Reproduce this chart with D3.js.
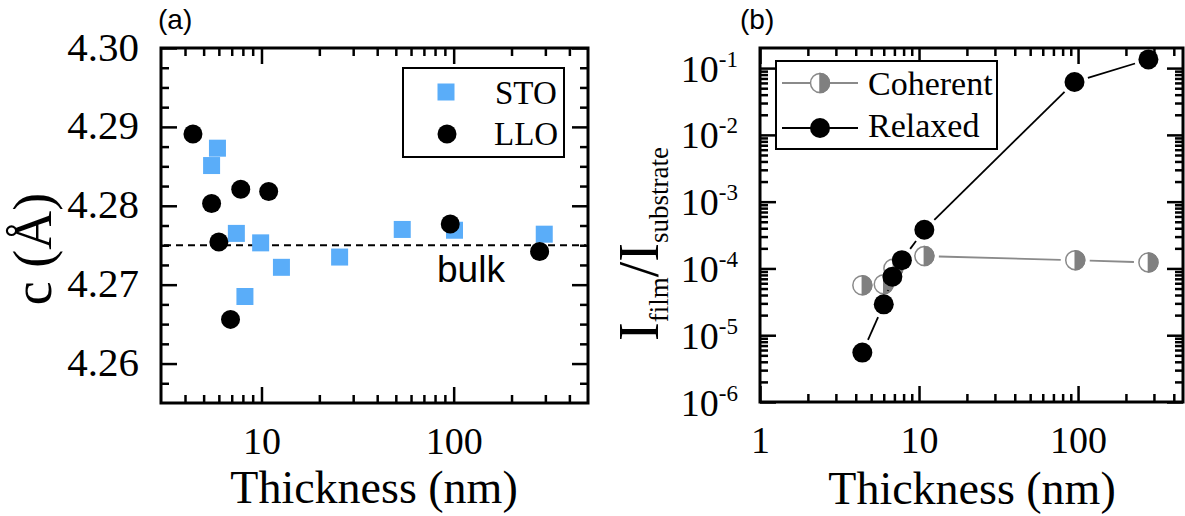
<!DOCTYPE html>
<html><head><meta charset="utf-8">
<script src="https://cdn.jsdelivr.net/npm/d3@7"></script>
<style>body{margin:0;background:#fff}</style>
</head><body><svg id="chart" width="1185" height="516"></svg>
<script>
// ---------- data ----------
const stoThickness = [5.5, 5.9, 7.4, 9.9, 12.7, 8.2, 25.5, 54, 101, 296];
const stoC         = [4.2851, 4.2873, 4.2765, 4.2753, 4.2722, 4.2685, 4.2735, 4.2770, 4.2769, 4.2764];
const lloThickness = [4.4, 5.5, 6.0, 6.9, 7.8, 10.9, 96, 280];
const lloC         = [4.2891, 4.2803, 4.2754, 4.2656, 4.2821, 4.2818, 4.2777, 4.2742];
const bulkC = 4.275;
const cTickLabels = [4.26, 4.27, 4.28, 4.29, 4.30];
const thicknessTicksA = [10, 100];

const relaxedThickness  = [4.4, 6.0, 6.8, 7.8, 10.8, 95, 277];
const relaxedRatio      = [5.5e-6, 2.9e-5, 7.5e-5, 1.33e-4, 3.8e-4, 6.2e-2, 1.35e-1];
const coherentThickness = [4.4, 6.0, 6.9, 10.8, 96, 277];
const coherentRatio     = [5.6e-5, 5.8e-5, 1.0e-4, 1.53e-4, 1.33e-4, 1.23e-4];
const ratioTickExps = [-6, -5, -4, -3, -2, -1];
const thicknessTicksB = [1, 10, 100];

// ---------- helpers ----------
const svg = d3.select("#chart");
const SERIF = "'Liberation Serif','Times New Roman',serif";
const SANS = "'Liberation Sans',Arial,sans-serif";
const STO_COLOR = "#5aadf9";

function tickSide(g, scale, orient, pos, values, size) {
  const gen = {bottom: d3.axisBottom, top: d3.axisTop, left: d3.axisLeft, right: d3.axisRight}[orient];
  const ax = gen(scale).tickValues(values).tickSizeInner(-size).tickSizeOuter(0).tickFormat("");
  const horiz = orient === "bottom" || orient === "top";
  const gg = g.append("g").attr("transform", horiz ? `translate(0,${pos})` : `translate(${pos},0)`).call(ax);
  gg.select(".domain").remove();
  gg.selectAll(".tick line").attr("stroke", "#000").attr("stroke-width", 2.5);
  gg.selectAll(".tick text").remove();
}

function logMinors(lo, hi) {
  const out = [];
  for (let e = Math.floor(Math.log10(lo)) - 1; e <= Math.ceil(Math.log10(hi)); e++) {
    for (let k = 2; k <= 9; k++) {
      const v = k * Math.pow(10, e);
      if (v > lo * 1.0001 && v < hi * 0.9999) out.push(v);
    }
  }
  return out;
}

function gappedSegments(g, pts, r, gap, color, width) {
  for (let i = 0; i < pts.length - 1; i++) {
    const [x1, y1] = pts[i], [x2, y2] = pts[i + 1];
    const dx = x2 - x1, dy = y2 - y1, L = Math.hypot(dx, dy);
    const cut = r + gap;
    if (L <= 2 * cut) continue;
    const ux = dx / L, uy = dy / L;
    g.append("line")
      .attr("x1", x1 + ux * cut).attr("y1", y1 + uy * cut)
      .attr("x2", x2 - ux * cut).attr("y2", y2 - uy * cut)
      .attr("stroke", color).attr("stroke-width", width);
  }
}

function halfCircle(g, cx, cy, r) {
  g.append("circle").attr("cx", cx).attr("cy", cy).attr("r", r)
    .attr("fill", "#fff").attr("stroke", "#8a8a8a").attr("stroke-width", 1.5);
  g.append("path")
    .attr("d", `M${cx},${cy - r} A${r},${r} 0 0 1 ${cx},${cy + r} Z`)
    .attr("fill", "#808080").attr("stroke", "#808080").attr("stroke-width", 1.5);
}

// ================= Panel (a) =================
const A = {l: 161, r: 588, t: 48, b: 403};
const xa = d3.scaleLog().domain([3, 500]).range([A.l, A.r]);
const ya = d3.scaleLinear().domain([4.255, 4.30]).range([A.b, A.t]);
const ga = svg.append("g");

const cMinor = d3.range(4.2575, 4.3, 0.0025).filter(v => Math.abs(v * 100 - Math.round(v * 100)) > 1e-6);
const xaMinor = logMinors(3, 500);
["bottom", "top"].forEach(o => {
  const p = o === "bottom" ? A.b : A.t;
  tickSide(ga, xa, o, p, thicknessTicksA, 16);
  tickSide(ga, xa, o, p, xaMinor, 8);
});
["left", "right"].forEach(o => {
  const p = o === "left" ? A.l : A.r;
  tickSide(ga, ya, o, p, cTickLabels, 16);
  tickSide(ga, ya, o, p, cMinor, 8);
});
ga.append("rect").attr("x", A.l).attr("y", A.t).attr("width", A.r - A.l).attr("height", A.b - A.t)
  .attr("fill", "none").attr("stroke", "#000").attr("stroke-width", 3);

// tick labels
const axA = ga.append("g").attr("transform", `translate(0,${A.b})`)
  .call(d3.axisBottom(xa).tickValues(thicknessTicksA).tickSize(0).tickFormat(d3.format("d")));
axA.select(".domain").remove();
axA.selectAll("text").attr("y", 51).attr("dy", 0).attr("font-family", SERIF).attr("font-size", 38).attr("fill", "#000");
const ayA = ga.append("g").attr("transform", `translate(${A.l},0)`)
  .call(d3.axisLeft(ya).tickValues(cTickLabels).tickSize(0).tickFormat(d3.format(".2f")));
ayA.select(".domain").remove();
ayA.selectAll("text").attr("x", -22).attr("y", 12).attr("dy", 0).attr("font-family", SERIF).attr("font-size", 41).attr("fill", "#000");

// bulk line
ga.append("line").attr("x1", A.l + 3).attr("x2", A.r - 2).attr("y1", ya(bulkC)).attr("y2", ya(bulkC))
  .attr("stroke", "#000").attr("stroke-width", 2).attr("stroke-dasharray", "7,5");
ga.append("text").attr("x", 437).attr("y", 282).attr("font-family", SANS).attr("font-size", 37).text("bulk");

// data
const sq = 17;
ga.selectAll("rect.sto").data(stoThickness.map((t, i) => [t, stoC[i]])).join("rect")
  .attr("class", "sto").attr("x", d => xa(d[0]) - sq / 2).attr("y", d => ya(d[1]) - sq / 2)
  .attr("width", sq).attr("height", sq).attr("fill", STO_COLOR);
ga.selectAll("circle.llo").data(lloThickness.map((t, i) => [t, lloC[i]])).join("circle")
  .attr("class", "llo").attr("cx", d => xa(d[0])).attr("cy", d => ya(d[1])).attr("r", 9.5).attr("fill", "#000");

// legend
ga.append("rect").attr("x", 403).attr("y", 68).attr("width", 161).attr("height", 89)
  .attr("fill", "#fff").attr("stroke", "#000").attr("stroke-width", 2);
ga.append("rect").attr("x", 446 - sq / 2).attr("y", 92 - sq / 2).attr("width", sq).attr("height", sq).attr("fill", STO_COLOR);
ga.append("circle").attr("cx", 447).attr("cy", 134).attr("r", 9.5).attr("fill", "#000");
ga.append("text").attr("x", 495).attr("y", 104).attr("font-family", SERIF).attr("font-size", 33).text("STO");
ga.append("text").attr("x", 494).attr("y", 145).attr("font-family", SERIF).attr("font-size", 33).text("LLO");

// titles
ga.append("text").attr("x", 374).attr("y", 503).attr("text-anchor", "middle")
  .attr("font-family", SERIF).attr("font-size", 46).text("Thickness (nm)");
ga.append("text").attr("transform", "translate(51,249) rotate(-90)").attr("text-anchor", "middle")
  .attr("font-family", SERIF).attr("font-size", 54).text("c (Å)");
ga.append("text").attr("x", 158).attr("y", 29).attr("font-family", SANS).attr("font-size", 28).text("(a)");

// ================= Panel (b) =================
const B = {l: 760, r: 1183, t: 48, b: 402};
const xb = d3.scaleLog().domain([1, 457]).range([B.l, B.r]);
const yb = d3.scaleLog().domain([1e-6, 0.2]).range([B.b, B.t]);
const gb = svg.append("g");
const ratioTicks = ratioTickExps.map(e => Math.pow(10, e));

["bottom", "top"].forEach(o => {
  const p = o === "bottom" ? B.b : B.t;
  tickSide(gb, xb, o, p, thicknessTicksB, 16);
  tickSide(gb, xb, o, p, logMinors(1, 457), 8);
});
["left", "right"].forEach(o => {
  const p = o === "left" ? B.l : B.r;
  tickSide(gb, yb, o, p, ratioTicks, 16);
  tickSide(gb, yb, o, p, logMinors(1e-6, 0.2), 8);
});
gb.append("rect").attr("x", B.l).attr("y", B.t).attr("width", B.r - B.l).attr("height", B.b - B.t)
  .attr("fill", "none").attr("stroke", "#000").attr("stroke-width", 3);

const axB = gb.append("g").attr("transform", `translate(0,${B.b})`)
  .call(d3.axisBottom(xb).tickValues(thicknessTicksB).tickSize(0).tickFormat(d3.format("d")));
axB.select(".domain").remove();
axB.selectAll("text").attr("y", 51).attr("dy", 0).attr("font-family", SERIF).attr("font-size", 38).attr("fill", "#000");
const ayB = gb.append("g").attr("transform", `translate(${B.l},0)`)
  .call(d3.axisLeft(yb).tickValues(ratioTicks).tickSize(0).tickFormat(""));
ayB.select(".domain").remove();
ayB.selectAll(".tick text").attr("x", -22).attr("y", 13).attr("dy", 0)
  .attr("font-family", SERIF).attr("font-size", 38).attr("fill", "#000")
  .each(function(d) {
    const t = d3.select(this);
    t.text(null);
    t.append("tspan").text("10");
    t.append("tspan").attr("dy", -15).attr("font-size", 23).text(String(Math.round(Math.log10(d))));
  });

// series
const cohPts = coherentThickness.map((t, i) => [xb(t), yb(coherentRatio[i])]);
const relPts = relaxedThickness.map((t, i) => [xb(t), yb(relaxedRatio[i])]);
gappedSegments(gb, cohPts, 9.5, 5, "#8a8a8a", 1.8);
cohPts.forEach(p => halfCircle(gb, p[0], p[1], 9.5));
gappedSegments(gb, relPts, 10, 4, "#000", 1.8);
gb.selectAll("circle.rel").data(relPts).join("circle").attr("class", "rel")
  .attr("cx", d => d[0]).attr("cy", d => d[1]).attr("r", 10).attr("fill", "#000");

// legend
gb.append("rect").attr("x", 776).attr("y", 61).attr("width", 221).attr("height", 88)
  .attr("fill", "#fff").attr("stroke", "#000").attr("stroke-width", 2);
gb.append("line").attr("x1", 782).attr("x2", 858).attr("y1", 83).attr("y2", 83).attr("stroke", "#8a8a8a").attr("stroke-width", 1.8);
halfCircle(gb, 820, 83, 9.5);
gb.append("line").attr("x1", 782).attr("x2", 858).attr("y1", 128).attr("y2", 128).attr("stroke", "#000").attr("stroke-width", 1.8);
gb.append("circle").attr("cx", 820).attr("cy", 128).attr("r", 10).attr("fill", "#000");
gb.append("text").attr("x", 868).attr("y", 95).attr("font-family", SERIF).attr("font-size", 34).text("Coherent");
gb.append("text").attr("x", 868).attr("y", 137).attr("font-family", SERIF).attr("font-size", 34).text("Relaxed");

// titles
gb.append("text").attr("x", 972).attr("y", 504).attr("text-anchor", "middle")
  .attr("font-family", SERIF).attr("font-size", 46).text("Thickness (nm)");
const yt = gb.append("text").attr("transform", "translate(658,244) rotate(-90)").attr("text-anchor", "middle")
  .attr("font-family", SERIF).attr("font-size", 56);
yt.append("tspan").text("I");
yt.append("tspan").attr("font-size", 27).attr("dy", 10).text("film");
yt.append("tspan").attr("dy", -10).text("/I");
yt.append("tspan").attr("font-size", 27).attr("dy", 10).text("substrate");
gb.append("text").attr("x", 740).attr("y", 29).attr("font-family", SANS).attr("font-size", 28).text("(b)");
</script>
</body></html>
